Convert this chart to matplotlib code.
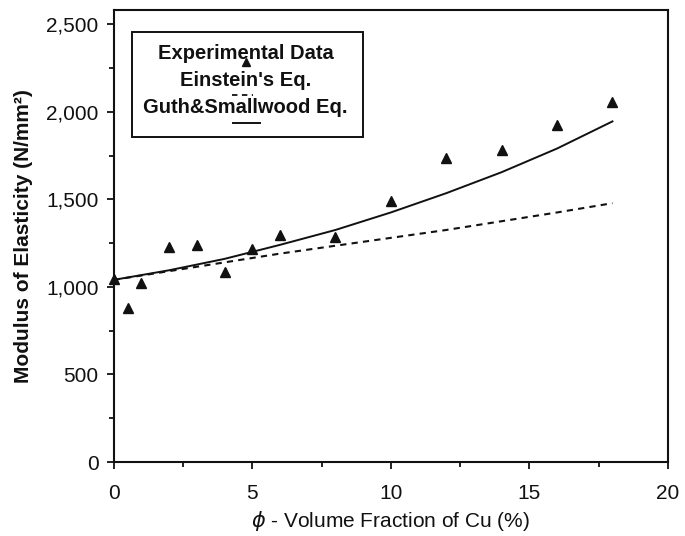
from matplotlib import pyplot as plt
from matplotlib.patches import Rectangle
from matplotlib.lines import Line2D
from matplotlib.ticker import MultipleLocator, FuncFormatter

# experimental points
phi_exp = [0, 0.5, 1, 2, 3, 4, 5, 6, 8, 10, 12, 14, 16, 18]
E_exp = [1045, 880, 1020, 1230, 1240, 1085, 1215, 1297, 1283, 1492, 1737, 1783, 1926, 2057]

# model curves
phi_model = [0, 2, 4, 6, 8, 10, 12, 14, 16, 18]
E_einstein = [1040, 1090, 1140, 1190, 1235, 1280, 1325, 1375, 1425, 1478]
E_guth = [1040, 1095, 1160, 1240, 1325, 1425, 1535, 1655, 1790, 1945]

x_ticks = [0, 5, 10, 15, 20]
y_ticks = [0, 500, 1000, 1500, 2000, 2500]

INK = '#111111'
FONT = 'Liberation Sans'

plt.rcParams['font.family'] = FONT

fig = plt.figure(figsize=(6.85, 5.36), dpi=100)
ax = fig.add_axes([0.166, 0.138, 0.809, 0.843])

ax.plot(phi_model, E_guth, color=INK, lw=1.4)
ax.plot(phi_model, E_einstein, color=INK, lw=1.5, dashes=(3, 2.5))
ax.plot(phi_exp, E_exp, ls='none', marker='^', ms=7.5, color=INK, clip_on=False)

ax.set_xlim(0, 20)
ax.set_ylim(0, 2580)
ax.set_xticks(x_ticks)
ax.set_yticks(y_ticks)
ax.xaxis.set_minor_locator(MultipleLocator(2.5))
ax.yaxis.set_minor_locator(MultipleLocator(250))
ax.yaxis.set_major_formatter(FuncFormatter(lambda v, p: '{:,.0f}'.format(v)))

for s in ax.spines.values():
    s.set_linewidth(1.5)
    s.set_color(INK)
ax.tick_params(which='major', direction='out', length=5, width=1.3, colors=INK, labelsize=15)
ax.tick_params(which='minor', direction='out', length=3.8, width=1.3, colors=INK)
ax.tick_params(axis='x', which='major', pad=11)
ax.tick_params(axis='y', which='major', pad=6)

ax.set_xlabel(r'$\phi$ - Volume Fraction of Cu (%)', fontsize=15, color=INK, labelpad=4)
ax.set_ylabel('Modulus of Elasticity (N/mm²)', fontsize=15, color=INK,
              fontweight='bold', labelpad=9)

# hand-drawn legend box like the original
ax.add_patch(Rectangle((0.0325, 0.719), 0.4165, 0.232, transform=ax.transAxes,
                       fill=False, lw=1.4, ec=INK))
labels = ['Experimental Data', "Einstein's Eq.", 'Guth&Smallwood Eq.']
for i, lab in enumerate(labels):
    ax.text(0.238, 0.905 - i * 0.06, lab, transform=ax.transAxes, ha='center',
            va='center', fontsize=14.5, fontweight='bold', color=INK)
ax.add_line(Line2D([0.238], [0.885], transform=ax.transAxes, marker='^', ms=6,
                   color=INK, ls='none'))
ax.add_line(Line2D([0.213, 0.251], [0.812, 0.812], transform=ax.transAxes,
                   color=INK, lw=1.3, dashes=(3, 2.5)))
ax.add_line(Line2D([0.215, 0.264], [0.750, 0.750], transform=ax.transAxes,
                   color=INK, lw=1.4))

plt.savefig('out.png', dpi=100)
